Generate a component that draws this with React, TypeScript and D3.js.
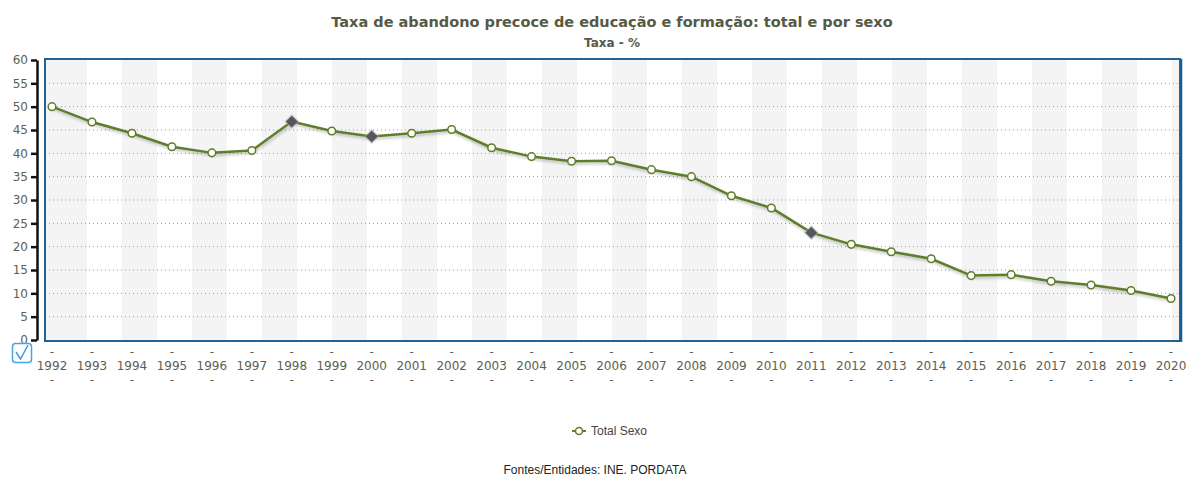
import { useEffect, useRef } from 'react'
import * as d3 from 'd3'

const years = [
  '1992', '1993', '1994', '1995', '1996', '1997', '1998', '1999', '2000', '2001',
  '2002', '2003', '2004', '2005', '2006', '2007', '2008', '2009', '2010', '2011',
  '2012', '2013', '2014', '2015', '2016', '2017', '2018', '2019', '2020',
]
const totalSexo = [
  50.0, 46.7, 44.3, 41.4, 40.1, 40.6, 46.8, 44.8, 43.6, 44.3,
  45.1, 41.2, 39.3, 38.3, 38.4, 36.5, 35.0, 30.9, 28.3, 23.0,
  20.5, 18.9, 17.4, 13.8, 14.0, 12.6, 11.8, 10.6, 8.9,
]
// series breaks shown as diamonds
const breakYears = ['1998', '2000', '2011']
const yTicks = [0, 5, 10, 15, 20, 25, 30, 35, 40, 45, 50, 55, 60]

const width = 1186
const height = 478
const frame = { left: 45, right: 1180, top: 59, bottom: 341 }
const lineColor = '#5f7d2a'
const textColor = '#5e5e50'
const axisFont = 'DejaVu Sans, Verdana, sans-serif'

export default function App() {
  const yAxisRef = useRef<SVGGElement | null>(null)

  const x = d3.scalePoint<string>().domain(years).range([52, 1171])
  const y = d3.scaleLinear().domain([0, 60]).range([340, 60])

  const line = d3
    .line<number>()
    .x((_, i) => x(years[i]) as number)
    .y((d) => y(d))

  useEffect(() => {
    if (!yAxisRef.current) return
    const g = d3.select(yAxisRef.current)
    g.call(d3.axisLeft(y).tickValues(yTicks).tickSize(6).tickPadding(3).tickSizeOuter(0))
    g.select('.domain').attr('stroke', '#111').attr('stroke-width', 2.5)
    g.selectAll('.tick line').attr('stroke', '#111').attr('stroke-width', 2.5)
    g.selectAll('.tick text')
      .attr('fill', textColor)
      .attr('font-size', 12)
      .attr('font-family', axisFont)
  }, [])

  const stripes: number[] = []
  for (let s = 52; s < frame.right; s += 70) stripes.push(s)

  return (
    <svg width={width} height={height} style={{ position: 'absolute', left: 0, top: 0, background: '#fff' }}>
      <defs>
        <filter id="shadow" x="-5%" y="-20%" width="110%" height="140%">
          <feDropShadow dx="1" dy="2" stdDeviation="1.5" floodColor="#000" floodOpacity="0.25" />
        </filter>
        <clipPath id="plotClip">
          <rect x={frame.left} y={frame.top} width={frame.right - frame.left} height={frame.bottom - frame.top} />
        </clipPath>
      </defs>

      <text x={612} y={27} textAnchor="middle" fontFamily={axisFont} fontWeight="bold" fontSize={14.5} fill="#555a45">
        Taxa de abandono precoce de educação e formação: total e por sexo
      </text>
      <text x={612} y={47} textAnchor="middle" fontFamily={axisFont} fontWeight="bold" fontSize={12} fill="#555a45">
        Taxa - %
      </text>

      <g clipPath="url(#plotClip)">
        {stripes.map((s, i) => (
          <rect key={s} x={i === 0 ? frame.left : s} y={frame.top} width={i === 0 ? s + 35 - frame.left : 35} height={frame.bottom - frame.top} fill="#f4f4f4" />
        ))}
        {yTicks.slice(1, -1).map((t) => (
          <line key={t} x1={frame.left} x2={frame.right} y1={y(t)} y2={y(t)} stroke="#999" strokeWidth={1} strokeDasharray="1,3" />
        ))}
      </g>

      <rect
        x={frame.left}
        y={frame.top}
        width={frame.right - frame.left}
        height={frame.bottom - frame.top}
        fill="none"
        stroke="#1d6596"
        strokeWidth={2}
      />
      <line x1={frame.right + 1.5} x2={frame.right + 1.5} y1={frame.top} y2={frame.bottom + 1} stroke="#1a5a86" strokeWidth={1.5} />

      <g ref={yAxisRef} transform="translate(37,0)" />

      <path d={line(totalSexo) ?? ''} fill="none" stroke={lineColor} strokeWidth={2.5} filter="url(#shadow)" />

      {totalSexo.map((v, i) => {
        const cx = x(years[i]) as number
        const cy = y(v)
        if (breakYears.includes(years[i])) {
          return (
            <g key={years[i]}>
              <path d={d3.symbol(d3.symbolDiamond2, 150)() ?? ''} transform={`translate(${cx},${cy})`} fill="#aaa" opacity={0.5} />
              <path d={d3.symbol(d3.symbolDiamond2, 90)() ?? ''} transform={`translate(${cx},${cy})`} fill="#55565e" />
            </g>
          )
        }
        return <circle key={years[i]} cx={cx} cy={cy} r={3.8} fill="#fff" stroke={lineColor} strokeWidth={1.5} />
      })}

      <g fontFamily={axisFont} fontSize={12} fill={textColor} textAnchor="middle">
        {years.map((yr) => (
          <g key={yr} transform={`translate(${x(yr)},0)`}>
            <text y={356}>-</text>
            <text y={370}>{yr}</text>
            <text y={384}>-</text>
          </g>
        ))}
      </g>

      <g>
        <rect x={12.5} y={343.5} width={19} height={19} rx={3} fill="#fff" stroke="#4aa3e6" strokeWidth={1.5} />
        <path d="M16 352 L20.5 359 L28 345" fill="none" stroke="#3d9be3" strokeWidth={1.5} />
      </g>

      <g>
        <line x1={572} x2={586} y1={431} y2={431} stroke={lineColor} strokeWidth={2} />
        <circle cx={579} cy={431} r={3.5} fill="#fff" stroke={lineColor} strokeWidth={1.5} />
        <text x={591} y={435} fontFamily="Liberation Sans, Arial, sans-serif" fontSize={12} fill="#444">
          Total Sexo
        </text>
      </g>

      <text x={595} y={474} textAnchor="middle" fontFamily="Liberation Sans, Arial, sans-serif" fontSize={12} fill="#222">
        Fontes/Entidades: INE. PORDATA
      </text>
    </svg>
  )
}
